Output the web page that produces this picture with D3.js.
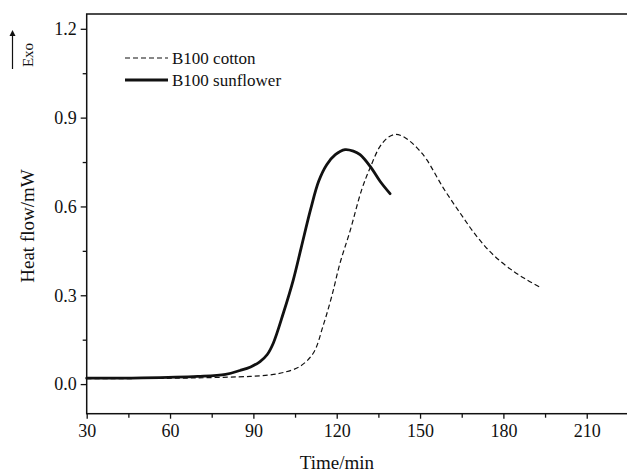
<!DOCTYPE html>
<html>
<head>
<meta charset="utf-8">
<script src="https://cdn.jsdelivr.net/npm/d3@7"></script>
<style>
  body { margin: 0; background: #fff; }
  svg text { font-family: "Liberation Serif", "DejaVu Serif", serif; fill: #111; }
</style>
</head>
<body>
<svg id="chart" width="627" height="473"></svg>
<script>
// values
const cottonTime = [30, 50, 70, 88.8, 96, 100.8, 106.8, 111.6, 115.2, 118.2, 121.2, 124.8, 129, 132, 135.6, 138.5, 141, 143.5, 146.4, 149.5, 152.4, 158.4, 164.4, 170.4, 176.4, 183.6, 188.5, 193.2];
const cottonHeat = [0.018, 0.019, 0.021, 0.026, 0.031, 0.039, 0.06, 0.105, 0.2, 0.296, 0.409, 0.517, 0.657, 0.73, 0.803, 0.833, 0.843, 0.838, 0.82, 0.792, 0.758, 0.662, 0.578, 0.499, 0.436, 0.381, 0.352, 0.327];

const sunTime = [30, 50, 70, 80, 85.2, 89, 92.4, 95, 97.2, 100.8, 104.4, 107.2, 110.6, 113.5, 116.4, 119.5, 123, 126, 128.4, 132, 135.6, 139.2];
const sunHeat = [0.02, 0.021, 0.026, 0.033, 0.046, 0.058, 0.076, 0.1, 0.139, 0.24, 0.353, 0.46, 0.59, 0.685, 0.741, 0.775, 0.792, 0.787, 0.775, 0.736, 0.685, 0.643];

const xTicks = [30, 60, 90, 120, 150, 180, 210];
const yTicks = [0.0, 0.3, 0.6, 0.9, 1.2];
const seriesNames = ["B100 cotton", "B100 sunflower"];

const plot = { left: 86.7, top: 14, right: 628.4, bottom: 413.7 };

const x = d3.scaleLinear().domain([30, 225]).range([plot.left, plot.right]);
const y = d3.scaleLinear().domain([-0.1, 1.25]).range([plot.bottom, plot.top]);

const svg = d3.select("#chart");

// frame
svg.append("rect")
  .attr("x", plot.left).attr("y", plot.top)
  .attr("width", plot.right - plot.left).attr("height", plot.bottom - plot.top)
  .attr("fill", "none").attr("stroke", "#111").attr("stroke-width", 1.5);

// axes with minor ticks
const xMinor = d3.range(45, 225, 30);
const yMinor = d3.range(-0.15, 1.25, 0.3).filter(v => v > -0.1);

svg.append("g")
  .attr("transform", `translate(0,${plot.bottom})`)
  .call(d3.axisBottom(x).tickValues(xTicks).tickSize(5).tickPadding(6).tickFormat(d3.format("d")));
svg.append("g")
  .attr("transform", `translate(0,${plot.bottom})`)
  .call(d3.axisBottom(x).tickValues(xMinor).tickSize(4).tickFormat(""));

svg.append("g")
  .attr("transform", `translate(${plot.left},0)`)
  .call(d3.axisLeft(y).tickValues(yTicks).tickSize(6).tickPadding(4).tickFormat(d3.format(".1f")));
svg.append("g")
  .attr("transform", `translate(${plot.left},0)`)
  .call(d3.axisLeft(y).tickValues(yMinor).tickSize(4).tickFormat(""));

svg.selectAll(".domain").remove();
svg.selectAll(".tick line").attr("stroke", "#111").attr("stroke-width", 1.3);
svg.selectAll(".tick text").style("font-size", "18px").attr("fill", "#111");

// axis titles
svg.append("text")
  .attr("x", 337).attr("y", 469)
  .attr("text-anchor", "middle").style("font-size", "19px")
  .text("Time/min");

svg.append("text")
  .attr("transform", "translate(34,226) rotate(-90)")
  .attr("text-anchor", "middle").style("font-size", "19px")
  .text("Heat flow/mW");

// Exo arrow
svg.append("defs").append("marker")
  .attr("id", "arrow").attr("viewBox", "0 0 10 10")
  .attr("refX", 5).attr("refY", 5)
  .attr("markerWidth", 5).attr("markerHeight", 7)
  .attr("orient", "auto")
  .append("path").attr("d", "M0,0 L10,5 L0,10 z").attr("fill", "#111");
svg.append("line")
  .attr("x1", 12.5).attr("x2", 12.5).attr("y1", 69).attr("y2", 33)
  .attr("stroke", "#111").attr("stroke-width", 1.2)
  .attr("marker-end", "url(#arrow)");
svg.append("text")
  .attr("transform", "translate(33,55) rotate(-90)")
  .attr("text-anchor", "middle").style("font-size", "15px")
  .text("Exo");

// curves
const line = d3.line().x(d => x(d[0])).y(d => y(d[1])).curve(d3.curveCatmullRom.alpha(0.5));

svg.append("path")
  .datum(d3.zip(cottonTime, cottonHeat))
  .attr("d", line)
  .attr("fill", "none").attr("stroke", "#111")
  .attr("stroke-width", 1.2).attr("stroke-dasharray", "5,3");

svg.append("path")
  .datum(d3.zip(sunTime, sunHeat))
  .attr("d", line)
  .attr("fill", "none").attr("stroke", "#111")
  .attr("stroke-width", 2.8).attr("stroke-linecap", "round");

// legend
const legendStyles = [
  { w: 1.2, dash: "5,3", y: 58 },
  { w: 2.8, dash: null, y: 80 }
];
seriesNames.forEach((name, i) => {
  const s = legendStyles[i];
  svg.append("line")
    .attr("x1", 125).attr("x2", 168).attr("y1", s.y).attr("y2", s.y)
    .attr("stroke", "#111").attr("stroke-width", s.w)
    .attr("stroke-dasharray", s.dash);
  svg.append("text")
    .attr("x", 172).attr("y", s.y + 6)
    .style("font-size", "17px")
    .text(name);
});
</script>
</body>
</html>
